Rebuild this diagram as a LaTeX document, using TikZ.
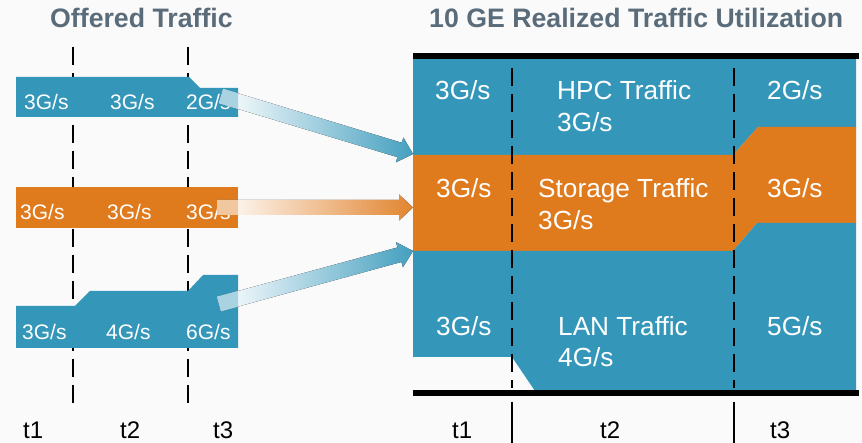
\documentclass[tikz,border=0pt]{standalone}
\usepackage{fontspec}
\setmainfont{Liberation Sans}
\usetikzlibrary{calc}
\definecolor{cblue}{RGB}{52,151,186}
\definecolor{corange}{RGB}{223,122,29}
\definecolor{ctitle}{RGB}{90,108,122}
\definecolor{cbg}{RGB}{250,250,251}
% #1 start coordinate, #2 tip coordinate, #3 colour, #4 prefix
\newcommand\fatarrow[4]{%
  \coordinate (#4hb) at ($(#2)!14pt!(#1)$);
  \coordinate (#4p1) at ($(#1)!7.5pt!90:(#2)$);
  \coordinate (#4p2) at ($(#4hb)!7.5pt!90:(#2)$);
  \coordinate (#4p3) at ($(#4hb)!13pt!90:(#2)$);
  \coordinate (#4p5) at ($(#4hb)!13pt!-90:(#2)$);
  \coordinate (#4p6) at ($(#4hb)!7.5pt!-90:(#2)$);
  \coordinate (#4p7) at ($(#1)!7.5pt!-90:(#2)$);
  \fill[left color=white, middle color=#3!28!white, right color=#3!92!white]
    (#4p1) -- (#4p2) -- (#4p3) -- (#2) -- (#4p5) -- (#4p6) -- (#4p7) -- cycle;
  \begin{scope}
    \clip (200,0) rectangle (238,443);
    \fill[#3!42!white] (#4p1) -- (#4p2) -- (#4p6) -- (#4p7) -- cycle;
  \end{scope}}
\begin{document}
\begin{tikzpicture}[x=1pt,y=-1pt,
  dashpat/.style={dash pattern=on 18pt off 8pt, line width=2.6pt, black},
  lbl/.style={inner sep=0pt, anchor=base west, text=white, font=\fontsize{21}{25}\selectfont},
  rlbl/.style={inner sep=0pt, anchor=base west, text=white, font=\fontsize{26.2}{30}\selectfont},
  ttl/.style={inner sep=0pt, anchor=base west, text=ctitle, font=\fontsize{26.7}{30}\selectfont\bfseries},
  tlbl/.style={inner sep=0pt, anchor=base west, text=black, font=\fontsize{24}{28}\selectfont},
  bar/.style={line width=5.5pt, black}]
\useasboundingbox (0,0) rectangle (862,443);
\fill[cbg] (0,0) rectangle (862,443);

% titles
\node[ttl] (t-off) at (50,28) {Offered Traffic};
\node[ttl] (t-real) at (429,28) {10 GE Realized Traffic Utilization};

% left dashed lines (behind bands)
\coordinate (ld1a) at (73,47); \coordinate (ld1b) at (73,405);
\coordinate (ld2a) at (188,47); \coordinate (ld2b) at (188,405);
\draw[dashpat] (ld1a) -- (ld1b);
\draw[dashpat] (ld2a) -- (ld2b);

% left bands
\fill[cblue] (16,77) -- (189,77) -- (200,88) -- (238,88) -- (238,117) -- (16,117) -- cycle;
\fill[corange] (16,187) rectangle (238,228);
\fill[cblue] (16,306) -- (75,306) -- (90,291) -- (188,291) -- (203,275) -- (238,275) -- (238,348) -- (16,348) -- cycle;

\node[lbl] (h1) at (24,110) {3G/s};
\node[lbl] (h2) at (110,110) {3G/s};
\node[lbl] (h3) at (186,110) {2G/s};
\node[lbl] (s1) at (20,220) {3G/s};
\node[lbl] (s2) at (107,220) {3G/s};
\node[lbl] (s3) at (186,220) {3G/s};
\node[lbl] (n1) at (22,340) {3G/s};
\node[lbl] (n2) at (106,340) {4G/s};
\node[lbl] (n3) at (186,340) {6G/s};

% right block
\fill[cblue] (413,58) -- (856,58) -- (856,127) -- (758,127) -- (733,155) -- (413,155) -- cycle;
\fill[corange] (413,155) -- (733,155) -- (758,127) -- (856,127) -- (856,223) -- (757,223) -- (733,251) -- (413,251) -- cycle;
\fill[cblue] (413,251) -- (733,251) -- (757,223) -- (856,223) -- (856,391) -- (535,391) -- (512,357) -- (413,357) -- cycle;

\coordinate (rd1a) at (512,68); \coordinate (rd1b) at (512,388);
\coordinate (rd2a) at (734,68); \coordinate (rd2b) at (734,388);
\draw[dashpat] (rd1a) -- (rd1b);
\draw[dashpat] (rd2a) -- (rd2b);
\coordinate (rs1a) at (512,402); \coordinate (rs1b) at (512,443);
\coordinate (rs2a) at (734,402); \coordinate (rs2b) at (734,443);
\draw[line width=2.6pt] (rs1a) -- (rs1b);
\draw[line width=2.6pt] (rs2a) -- (rs2b);

\coordinate (bt1) at (413,56); \coordinate (bt2) at (859,56);
\coordinate (bb1) at (413,393); \coordinate (bb2) at (859,393);
\draw[bar] (bt1) -- (bt2);
\draw[bar] (bb1) -- (bb2);

\node[rlbl] (r11) at (435,100) {3G/s};
\node[rlbl] (r12) at (557,100) {HPC Traffic};
\node[rlbl] (r12b) at (557,132) {3G/s};
\node[rlbl] (r13) at (767,100) {2G/s};
\node[rlbl] (r21) at (436,198) {3G/s};
\node[rlbl] (r22) at (538,198) {Storage Traffic};
\node[rlbl] (r22b) at (538,230) {3G/s};
\node[rlbl] (r23) at (767,198) {3G/s};
\node[rlbl] (r31) at (436,336) {3G/s};
\node[rlbl] (r32) at (558,336) {LAN Traffic};
\node[rlbl] (r32b) at (558,367) {4G/s};
\node[rlbl] (r33) at (767,336) {5G/s};

% arrows
\coordinate (a1s) at (221,96); \coordinate (a1t) at (413,154);
\coordinate (a2s) at (217,207.5); \coordinate (a2t) at (413,207.5);
\coordinate (a3s) at (219,304); \coordinate (a3t) at (413,251);
\fatarrow{a1s}{a1t}{cblue}{x}
\fatarrow{a2s}{a2t}{corange}{y}
\fatarrow{a3s}{a3t}{cblue}{z}

% time labels
\node[tlbl] (lt1) at (23,438) {t1};
\node[tlbl] (lt2) at (120,438) {t2};
\node[tlbl] (lt3) at (213,438) {t3};
\node[tlbl] (rt1) at (452,438) {t1};
\node[tlbl] (rt2) at (600,438) {t2};
\node[tlbl] (rt3) at (770,438) {t3};
\end{tikzpicture}
\end{document}
